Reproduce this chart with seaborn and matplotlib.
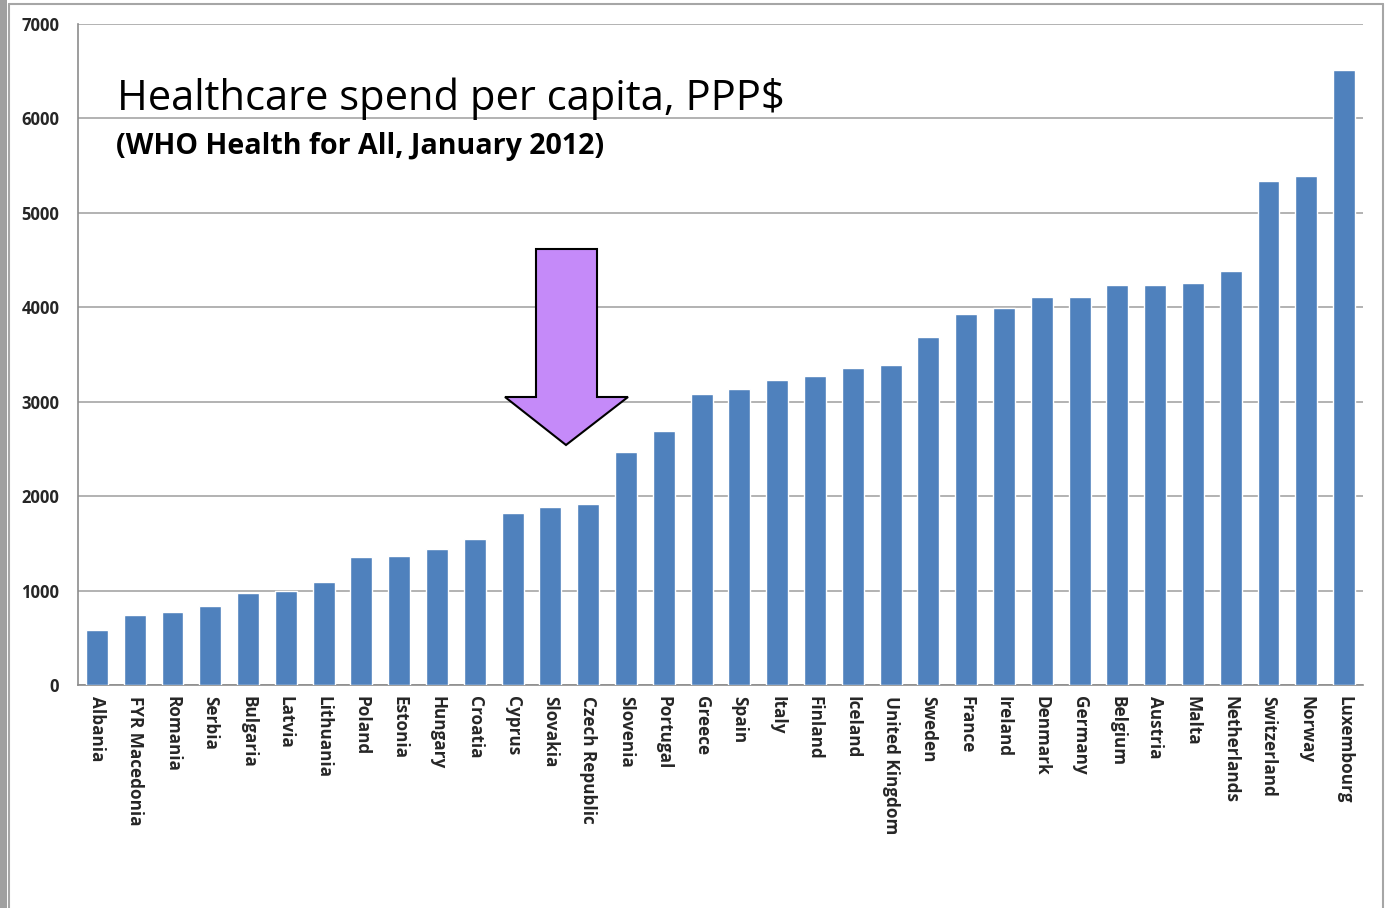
import matplotlib
matplotlib.use("Agg")
import matplotlib.pyplot as plt
from matplotlib.patches import Polygon, Rectangle
from matplotlib.lines import Line2D
from matplotlib import font_manager
import seaborn as sns
import pandas as pd

countries = ["Albania", "FYR Macedonia", "Romania", "Serbia", "Bulgaria", "Latvia",
             "Lithuania", "Poland", "Estonia", "Hungary", "Croatia", "Cyprus",
             "Slovakia", "Czech Republic", "Slovenia", "Portugal", "Greece", "Spain",
             "Italy", "Finland", "Iceland", "United Kingdom", "Sweden", "France",
             "Ireland", "Denmark", "Germany", "Belgium", "Austria", "Malta",
             "Netherlands", "Switzerland", "Norway", "Luxembourg"]
spend = [583, 741, 773, 837, 975, 996, 1091, 1356, 1366, 1440, 1547, 1822,
         1886, 1917, 2468, 2691, 3083, 3136, 3231, 3273, 3358, 3390, 3686, 3930,
         3994, 4110, 4110, 4237, 4240, 4258, 4386, 5339, 5392, 6515]
yticks = [0, 1000, 2000, 3000, 4000, 5000, 6000, 7000]
title = "Healthcare spend per capita, PPP$"
subtitle = "(WHO Health for All, January 2012)"

sns.set_style("white")
names = {f.name for f in font_manager.fontManager.ttflist}
base = "Open Sans" if "Open Sans" in names else "DejaVu Sans"
plt.rcParams["font.family"] = [base, "DejaVu Sans"]

df = pd.DataFrame({"country": countries, "spend": spend})

fig = plt.figure(figsize=(13.87, 9.08), dpi=100)
ax = fig.add_axes([78/1387, 1-685/908, (1363-78)/1387, (685-24)/908])

sns.barplot(data=df, x="country", y="spend", color="#4F81BD", width=0.58,
            saturation=1, ax=ax, zorder=3)

ax.set_xlim(-0.5, len(countries)-0.5)
ax.set_ylim(0, 7000)
ax.set_yticks(yticks)
ax.set_yticklabels([str(v) for v in yticks], fontsize=12, fontweight="bold")
ax.yaxis.grid(True, color="#A6A6A6", linewidth=1.2, zorder=0)
ax.set_axisbelow(True)
ax.set_xlabel("")
ax.set_ylabel("")

ax.set_xticks(range(len(countries)))
ax.set_xticklabels(countries, rotation=-90, fontsize=12.3, fontweight="bold",
                   va="top", ha="center")
ax.tick_params(axis="x", which="major", length=0, pad=8)
ax.set_xticks([i - 0.5 for i in range(len(countries)+1)], minor=True)
ax.tick_params(axis="x", which="minor", length=4, color="#8C8C8C", width=1.2, direction="out")
ax.tick_params(axis="y", length=4.5, color="#A6A6A6", width=1.2, direction="out", pad=9)

for s in ["top", "right"]:
    ax.spines[s].set_visible(False)
for s in ["left", "bottom"]:
    ax.spines[s].set_color("#8C8C8C")
    ax.spines[s].set_linewidth(1.2)

# titles
fig.text(117/1387, 1-110/908, title, fontsize=30, fontweight="medium", color="black",
         family=[base, "DejaVu Sans"])
fig.text(116/1387, 1-154/908, subtitle, fontsize=20.6, fontweight="bold", color="black",
         family=[base, "DejaVu Sans"])

# arrow annotation (axes fraction)
def fx(px):
    return (px - 78) / 1285
def fy(py):
    return (685 - py) / 661
arrow_pts = [(fx(536), fy(249)), (fx(597), fy(249)), (fx(597), fy(397)),
             (fx(628), fy(397)), (fx(566), fy(445)), (fx(505), fy(397)),
             (fx(536), fy(397))]
ax.add_patch(Polygon(arrow_pts, closed=True, transform=ax.transAxes,
                     facecolor="#C58AF9", edgecolor="black", linewidth=1.5, zorder=5))

# slide frame
fig.add_artist(Rectangle((0, 0), 7/1387, 1, transform=fig.transFigure,
                         facecolor="#A0A0A0", edgecolor="none"))
fig.add_artist(Line2D([9/1387, 9/1387], [0, 1-4/908], transform=fig.transFigure,
                      color="#A6A6A6", linewidth=1.5))
fig.add_artist(Line2D([9/1387, 1383/1387], [1-4/908, 1-4/908], transform=fig.transFigure,
                      color="#A6A6A6", linewidth=1.5))
fig.add_artist(Line2D([1383/1387, 1383/1387], [0, 1-4/908], transform=fig.transFigure,
                      color="#A6A6A6", linewidth=1.5))

fig.savefig("out.png", dpi=100)
